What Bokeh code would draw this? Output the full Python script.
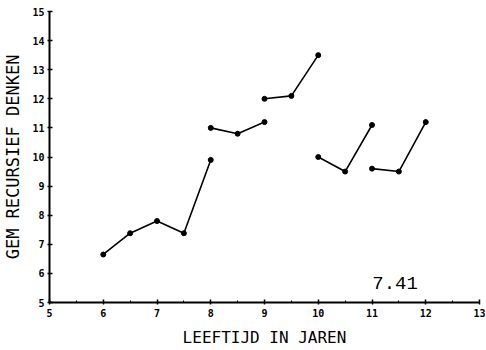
from bokeh.plotting import figure
from bokeh.models import Range1d, FixedTicker, Label
from bokeh.embed import file_html
from bokeh.resources import INLINE

# Mean recursive-thinking score by age, one segment per cohort
ages_a = [6.0, 6.5, 7.0, 7.5, 8.0]
score_a = [6.65, 7.38, 7.8, 7.38, 9.9]

ages_b = [8.0, 8.5, 9.0]
score_b = [11.0, 10.8, 11.2]

ages_c = [9.0, 9.5, 10.0]
score_c = [12.0, 12.1, 13.5]

ages_d = [10.0, 10.5, 11.0]
score_d = [10.0, 9.5, 11.1]

ages_e = [11.0, 11.5, 12.0]
score_e = [9.6, 9.5, 11.2]

x_ticks = [5, 6, 7, 8, 9, 10, 11, 12, 13]
y_ticks = [5, 6, 7, 8, 9, 10, 11, 12, 13, 14, 15]
annotation = "7.41"

p = figure(width=486, height=350, output_backend="svg", toolbar_location=None,
           x_range=Range1d(5, 13), y_range=Range1d(5, 15),
           min_border_left=48, min_border_right=7, min_border_top=11, min_border_bottom=48)
p.outline_line_color = None
p.grid.visible = False
p.background_fill_color = "white"

for xs, ys in [(ages_a, score_a), (ages_b, score_b), (ages_c, score_c),
               (ages_d, score_d), (ages_e, score_e)]:
    p.line(xs, ys, line_color="black", line_width=1.6)
    p.scatter(xs, ys, size=5, color="black")

mono = "DejaVu Sans Mono"
for ax in (p.xaxis[0], p.yaxis[0]):
    ax.axis_line_width = 2
    ax.axis_line_color = "black"
    ax.major_tick_line_color = "black"
    ax.major_tick_line_width = 1.5
    ax.major_tick_in = 3
    ax.major_tick_out = 2
    ax.minor_tick_line_color = None
    ax.major_label_text_font = mono
    ax.major_label_text_font_style = "bold"
    ax.major_label_text_font_size = "10px"
    ax.major_label_text_color = "black"
    ax.axis_label_text_font = mono
    ax.axis_label_text_font_style = "normal"
    ax.axis_label_text_color = "black"

p.xaxis.ticker = FixedTicker(ticks=x_ticks, minor_ticks=[5.5, 6.5, 7.5, 8.5, 9.5, 10.5, 11.5, 12.5])
p.xaxis.minor_tick_line_color = "black"
p.xaxis.minor_tick_in = 2
p.xaxis.minor_tick_out = 0
p.yaxis.ticker = FixedTicker(ticks=y_ticks)
p.xaxis.major_label_standoff = 4
p.yaxis.major_label_standoff = 3

p.xaxis.axis_label = "LEEFTIJD IN JAREN"
p.xaxis.axis_label_text_font_size = "16px"
p.xaxis.axis_label_standoff = 8
p.yaxis.axis_label = "GEM RECURSIEF DENKEN"
p.yaxis.axis_label_text_font_size = "17px"
p.yaxis.axis_label_standoff = 6

p.add_layout(Label(x=11.43, y=5.45, text=annotation, text_font="Liberation Mono",
                   text_font_size="19px", text_color="black", text_align="center"))

open("out.html", "w").write(file_html(p, INLINE))
